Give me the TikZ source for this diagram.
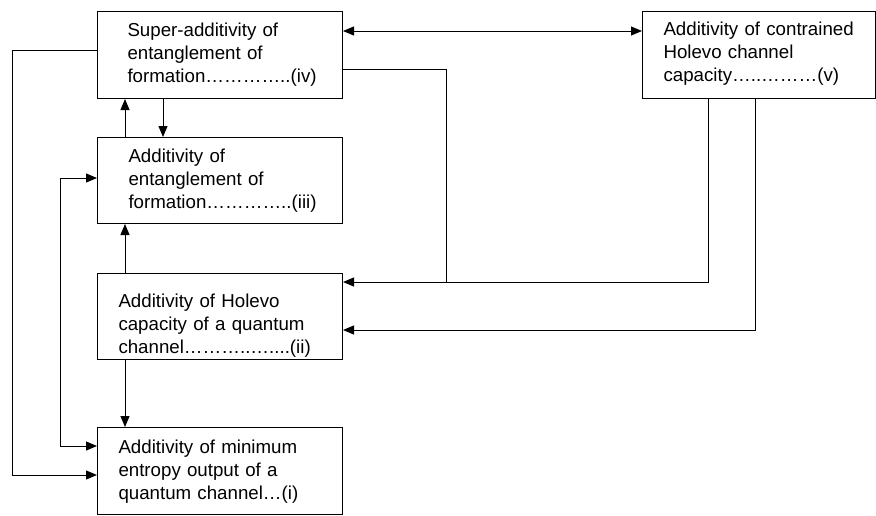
\documentclass[tikz,border=0pt]{standalone}
\usepackage{fontspec}
\setmainfont{Liberation Sans}
\usetikzlibrary{arrows.meta, calc}
\hyphenpenalty=10000
\exhyphenpenalty=10000

\begin{document}
\begin{tikzpicture}[x=0.5pt, y=-0.5pt, line width=0.5pt,
    box/.style={draw, anchor=north west, align=left, inner ysep=0pt,
      font=\fontsize{9.35pt}{11.5pt}\selectfont},
    arr/.style={-{Triangle[length=5.5pt, width=4.5pt]}},
    arrs/.style={{Triangle[length=5.5pt, width=4.5pt]}-{Triangle[length=5.5pt, width=4.5pt]}}]
    \useasboundingbox (0,0) rectangle (876,515);

    \node [box, inner xsep=15pt, text width=92.5pt, text height=12.5pt, text depth=31pt] (iv) at (97,11)
      {Super-additivity of\\entanglement of\\formation…………..(iv)};
    \node [box, inner xsep=15.5pt, text width=91.5pt, text height=12.5pt, text depth=30.5pt] (iii) at (97,137)
      {Additivity of\\entanglement of\\formation…………..(iii)};
    \node [box, inner xsep=10.5pt, text width=101.5pt, text height=17pt, text depth=26pt] (ii) at (97,273)
      {Additivity of Holevo\\capacity of a quantum\\channel………..…....(ii)};
    \node [box, inner xsep=10.5pt, text width=101.5pt, text height=13pt, text depth=30.5pt] (i) at (97,427)
      {Additivity of minimum\\entropy output of a\\quantum channel…(i)};
    \node [box, inner xsep=10.5pt, text width=95.5pt, text height=12pt, text depth=31.5pt] (v) at (642,11)
      {Additivity of contrained\\Holevo channel\\capacity…..………(v)};
    \coordinate (join) at ($(ii.north east)+(103,9)$);

    \draw [arrs] ($(iv.north east)+(0,20)$) -- ($(v.north west)+(0,20)$);
    \draw ($(iv.north east)+(0,58)$) -| (join);
    \draw [arr] ($(v.south west)+(66,0)$) |- ($(ii.north east)+(0,9)$);
    \draw [arr] ($(v.south west)+(113,0)$) |- ($(ii.north east)+(0,57)$);
    \draw [arr] ($(iii.north west)+(28,0)$) -- ($(iv.south west)+(28,0)$);
    \draw [arr] ($(iv.south west)+(66,0)$) -- ($(iii.north west)+(66,0)$);
    \draw [arr] ($(ii.north west)+(28,0)$) -- ($(iii.south west)+(28,0)$);
    \draw [arr] ($(ii.south west)+(28,0)$) -- ($(i.north west)+(28,0)$);
    \draw [arrs] ($(iii.north west)+(0,41)$) -- ++(-37,0) |- ($(i.north west)+(0,19)$);
    \draw [arr] ($(iv.north west)+(0,39)$) -- ++(-85,0) |- ($(i.north west)+(0,48)$);
\end{tikzpicture}
\end{document}
